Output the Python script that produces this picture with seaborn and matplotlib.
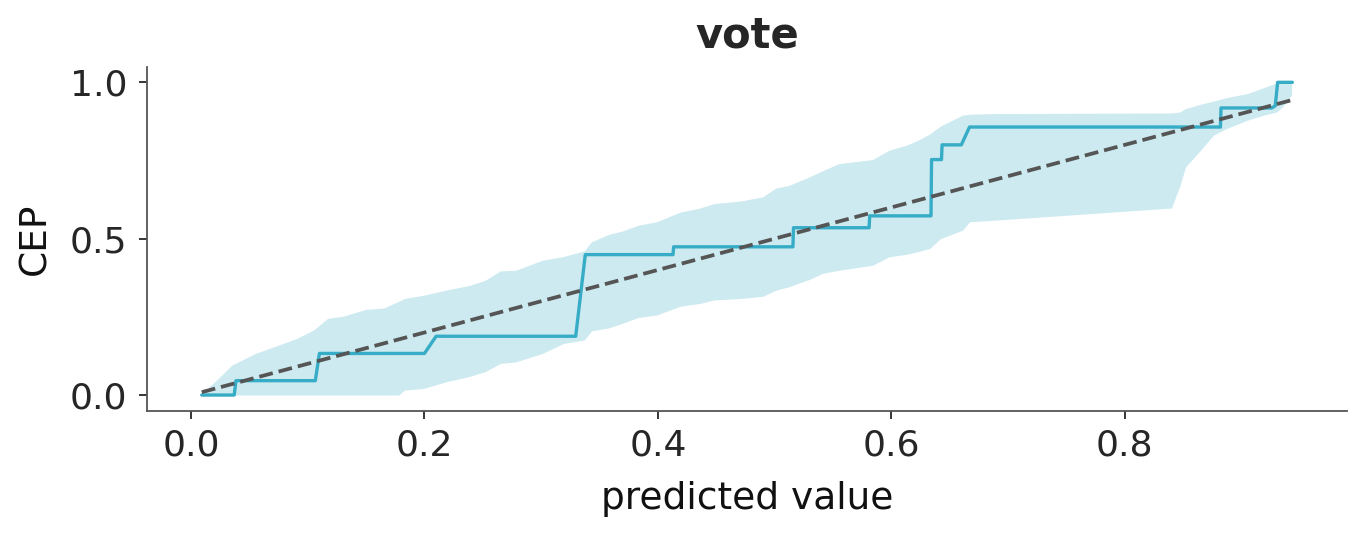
import numpy as np
import matplotlib
matplotlib.use("Agg")
import matplotlib.pyplot as plt
import seaborn as sns

# calibration curve (PAVA)
cal_x = [0.0092, 0.037, 0.0385, 0.1065, 0.110, 0.200, 0.210, 0.3296, 0.3378,
         0.413, 0.4135, 0.5157, 0.5162, 0.581, 0.5815, 0.634, 0.6345, 0.643,
         0.6435, 0.660, 0.667, 0.882, 0.8825, 0.926, 0.929, 0.931, 0.9436]
cal_y = [0.0, 0.0, 0.046, 0.046, 0.133, 0.133, 0.188, 0.188, 0.449,
         0.449, 0.474, 0.474, 0.535, 0.535, 0.573, 0.573, 0.753, 0.753,
         0.800, 0.800, 0.857, 0.857, 0.918, 0.918, 0.925, 1.0, 1.0]

# credible band
band_x = [0.009, 0.022, 0.035, 0.055, 0.070, 0.090, 0.105, 0.117, 0.130, 0.150,
          0.165, 0.178, 0.183, 0.199, 0.219, 0.238, 0.252, 0.265, 0.278, 0.301,
          0.319, 0.337, 0.343, 0.358, 0.370, 0.383, 0.399, 0.419, 0.436, 0.448,
          0.472, 0.490, 0.501, 0.512, 0.530, 0.541, 0.555, 0.584, 0.598, 0.613,
          0.624, 0.633, 0.642, 0.661, 0.667, 0.688, 0.840, 0.847, 0.852, 0.865,
          0.876, 0.887, 0.905, 0.919, 0.930, 0.935, 0.943]
band_hi = [0.005, 0.048, 0.096, 0.133, 0.153, 0.180, 0.208, 0.245, 0.252, 0.274,
           0.278, 0.300, 0.309, 0.319, 0.336, 0.350, 0.367, 0.397, 0.399, 0.431,
           0.443, 0.461, 0.490, 0.514, 0.525, 0.543, 0.554, 0.585, 0.598, 0.612,
           0.621, 0.634, 0.662, 0.670, 0.698, 0.717, 0.740, 0.753, 0.783, 0.799,
           0.817, 0.835, 0.860, 0.895, 0.898, 0.900, 0.902, 0.905, 0.916, 0.930,
           0.940, 0.951, 0.964, 0.983, 0.998, 1.0, 1.0]
band_lo = [0.0, 0.0, 0.0, 0.0, 0.0, 0.0, 0.0, 0.0, 0.0, 0.0,
           0.0, 0.0, 0.016, 0.021, 0.043, 0.059, 0.075, 0.101, 0.106, 0.133,
           0.165, 0.176, 0.205, 0.215, 0.230, 0.248, 0.256, 0.284, 0.293, 0.304,
           0.309, 0.316, 0.335, 0.346, 0.370, 0.389, 0.399, 0.415, 0.442, 0.450,
           0.460, 0.469, 0.500, 0.527, 0.554, 0.559, 0.598, 0.666, 0.729, 0.783,
           0.831, 0.852, 0.879, 0.895, 0.905, 0.921, 0.960]

var_name = "vote"
color = "#36acc6"

sns.set_theme(style="ticks")
plt.rcParams["font.family"] = ["DejaVu Sans"]
plt.rcParams["axes.edgecolor"] = "#555555"
plt.rcParams["axes.linewidth"] = 1.3
plt.rcParams["xtick.major.size"] = 6
plt.rcParams["ytick.major.size"] = 6
plt.rcParams["xtick.major.width"] = 1.3
plt.rcParams["ytick.major.width"] = 1.3

fig = plt.figure(figsize=(13.66, 5.36), dpi=100)
ax = fig.add_axes([0.1076, 0.2338, 0.8784, 0.6418])

ax.fill_between(band_x, band_lo, band_hi, color=color, alpha=0.25, linewidth=0)
sns.lineplot(x=cal_x, y=cal_y, sort=False, estimator=None, color=color,
             linewidth=2.4, ax=ax)
lo, hi = min(cal_x), max(cal_x)
ax.plot([lo, hi], [lo, hi], ls="--", color="#555555", linewidth=2.7)

ax.set_xticks([0.0, 0.2, 0.4, 0.6, 0.8])
ax.set_yticks([0.0, 0.5, 1.0])
ax.tick_params(axis="x", labelsize=26, colors="#262626", pad=7)
ax.tick_params(axis="y", labelsize=26, colors="#262626", pad=8)
ax.set_xlabel("predicted value", fontsize=27, color="#111111", labelpad=13)
ax.set_ylabel("CEP", fontsize=27, color="#111111", labelpad=12)
ax.set_title(var_name, fontsize=30, fontweight="bold", color="#262626", pad=14)
sns.despine(ax=ax)

fig.savefig("out.png", dpi=100)
